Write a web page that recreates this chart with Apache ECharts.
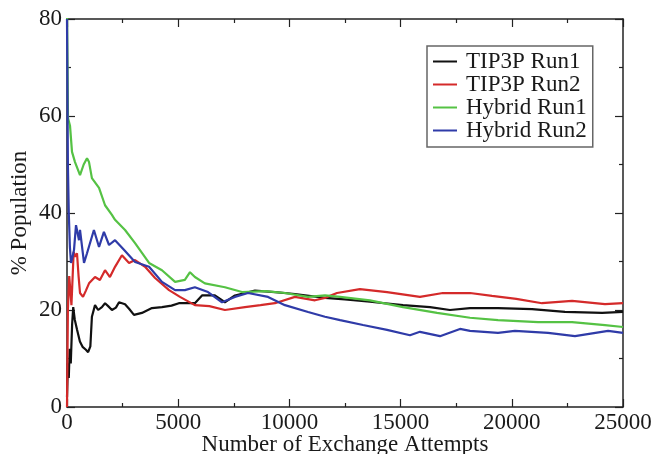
<!DOCTYPE html>
<html>
<head>
<meta charset="utf-8">
<script src="https://cdn.jsdelivr.net/npm/echarts@6/dist/echarts.min.js"></script>
<style>
  html, body { margin: 0; padding: 0; background: #fff; }
  #chart { width: 652px; height: 454px; }
</style>
</head>
<body>
<div id="chart"></div>
<script>
// series names
const seriesNames = ['TIP3P Run1', 'TIP3P Run2', 'Hybrid Run1', 'Hybrid Run2']
const seriesColors = ['#111111', '#d42a2a', '#55c244', '#2f3ba8']

// TIP3P Run1 (black)
const run1X = [0, 40, 80, 120, 170, 230, 280, 350, 450, 580, 700, 850, 950, 1050, 1120, 1260, 1400, 1570, 1710, 1850, 2020, 2200, 2340, 2610, 2800, 3010, 3370, 3820, 4270, 4700, 5030, 5750, 6070, 6650, 7100, 7550, 8450, 9350, 10250, 11600, 12500, 13620, 15110, 16320, 17220, 18120, 19380, 20910, 22390, 24060, 25000]
const run1Y = [2, 9, 6, 12, 9, 17, 20.6, 18, 16, 13.5, 12.4, 11.8, 11.3, 12.5, 18.6, 21, 20, 20.6, 21.4, 20.8, 20, 20.5, 21.6, 21.2, 20.2, 19, 19.4, 20.4, 20.6, 20.9, 21.4, 21.4, 23, 23, 21.6, 23, 24, 23.7, 23.3, 22.5, 22.2, 21.7, 21, 20.6, 20, 20.4, 20.4, 20.2, 19.6, 19.4, 19.6]

// TIP3P Run2 (red)
const run2X = [0, 40, 100, 200, 300, 360, 450, 520, 585, 720, 850, 990, 1260, 1480, 1710, 1930, 2160, 2470, 2790, 3060, 3510, 3960, 4590, 5080, 5750, 6400, 7100, 8000, 8700, 9350, 10250, 11150, 11600, 12140, 13170, 14390, 15870, 16900, 18120, 19110, 20200, 21360, 22710, 24190, 25000]
const run2Y = [0, 20, 27, 21, 32, 31, 31.7, 27, 23.5, 22.7, 24, 25.5, 26.8, 26.2, 28.2, 26.8, 28.9, 31.3, 29.7, 30.3, 28.9, 26.6, 24.1, 22.7, 21, 20.8, 20, 20.6, 21, 21.4, 22.7, 22, 22.5, 23.5, 24.3, 23.7, 22.7, 23.5, 23.5, 22.9, 22.3, 21.4, 21.9, 21.2, 21.4]

// Hybrid Run1 (green)
const hyb1X = [0, 25, 45, 135, 225, 360, 585, 750, 900, 990, 1120, 1440, 1710, 2020, 2160, 2610, 3060, 3690, 4270, 4860, 5300, 5530, 5750, 6200, 7100, 7870, 8900, 9800, 10840, 11600, 12280, 13620, 15110, 16640, 18120, 19380, 21180, 22710, 24190, 25000]
const hyb1Y = [82, 70, 59.6, 58, 52.6, 50.5, 47.8, 50, 51.3, 50.5, 47.2, 45.2, 41.6, 39.6, 38.6, 36.5, 33.8, 29.7, 28.2, 25.8, 26.2, 27.8, 26.8, 25.5, 24.7, 23.7, 23.9, 23.5, 22.7, 23, 22.7, 22, 20.6, 19.4, 18.4, 17.9, 17.5, 17.5, 16.9, 16.5]

// Hybrid Run2 (blue)
const hyb2X = [0, 40, 80, 130, 180, 250, 315, 405, 540, 585, 765, 900, 1210, 1440, 1660, 1890, 2160, 2560, 3060, 3690, 4270, 4860, 5300, 5750, 6340, 6970, 7550, 8140, 9040, 9800, 10840, 11600, 12280, 13310, 14390, 15420, 15870, 16770, 17670, 18120, 19380, 20140, 21630, 22840, 24330, 25000]
const hyb2Y = [80, 50, 40, 33, 29.7, 31, 32.4, 37.5, 34.4, 36.5, 29.7, 31.7, 36.5, 33, 36.1, 33.4, 34.4, 32.4, 29.9, 28.9, 25.8, 24.1, 24.1, 24.7, 23.7, 21.6, 22.7, 23.5, 22.7, 21, 19.6, 18.6, 17.9, 16.9, 15.9, 14.8, 15.5, 14.6, 16.1, 15.7, 15.3, 15.7, 15.3, 14.6, 15.7, 15.3]

const allX = [run1X, run2X, hyb1X, hyb2X]
const allY = [run1Y, run2Y, hyb1Y, hyb2Y]

const font = "'Liberation Serif', 'DejaVu Serif', serif"
const txt = '#1a1a1a'
const frame = { show: true, onZero: false, lineStyle: { color: '#222', width: 1.5 } }
const ticks = { show: true, inside: true, length: 8, lineStyle: { color: '#222', width: 1.2 } }
const minor = { show: true, splitNumber: 2, length: 4, lineStyle: { color: '#222', width: 1.2 } }

const chart = echarts.init(document.getElementById('chart'), null, { renderer: 'canvas' })

chart.setOption({
  animation: false,
  backgroundColor: '#fff',
  grid: { left: 67, right: 29, top: 19, bottom: 47, containLabel: false, outerBoundsMode: 'none' },
  legend: {
    orient: 'vertical',
    left: 427,
    top: 46,
    padding: [4, 6, 5, 6],
    itemGap: 0,
    itemWidth: 24,
    itemHeight: 2,
    icon: 'rect',
    borderColor: '#666',
    borderWidth: 1.5,
    backgroundColor: '#fff',
    textStyle: { fontFamily: font, fontSize: 23, color: txt, padding: [0, 0, 0, 4] },
    data: seriesNames
  },
  xAxis: [
    {
      type: 'value', min: 0, max: 25000, interval: 5000, position: 'bottom',
      name: 'Number of Exchange Attempts', nameLocation: 'middle', nameGap: 26, nameMoveOverlap: false,
      nameTextStyle: { fontFamily: font, fontSize: 23, color: txt },
      axisLine: frame, axisTick: ticks, minorTick: minor,
      axisLabel: { fontFamily: font, fontSize: 23, color: txt, margin: 4, formatter: v => String(v) },
      splitLine: { show: false }
    },
    {
      type: 'value', min: 0, max: 25000, interval: 5000, position: 'top',
      axisLine: frame, axisTick: ticks, minorTick: minor,
      axisLabel: { show: false }, splitLine: { show: false }
    }
  ],
  yAxis: [
    {
      type: 'value', min: 0, max: 80, interval: 20, position: 'left',
      name: '% Population', nameLocation: 'middle', nameGap: 36, nameMoveOverlap: false,
      nameTextStyle: { fontFamily: font, fontSize: 23, color: txt },
      axisLine: frame, axisTick: ticks, minorTick: minor,
      axisLabel: { fontFamily: font, fontSize: 23, color: txt, margin: 5 },
      splitLine: { show: false }
    },
    {
      type: 'value', min: 0, max: 80, interval: 20, position: 'right',
      axisLine: frame, axisTick: ticks, minorTick: minor,
      axisLabel: { show: false }, splitLine: { show: false }
    }
  ],
  series: seriesNames.map((name, i) => ({
    name,
    type: 'line',
    xAxisIndex: 0,
    yAxisIndex: 0,
    showSymbol: false,
    symbol: 'none',
    clip: true,
    color: seriesColors[i],
    lineStyle: { width: 2.2, color: seriesColors[i] },
    data: allX[i].map((x, j) => [x, allY[i][j]])
  }))
})
</script>
</body>
</html>
